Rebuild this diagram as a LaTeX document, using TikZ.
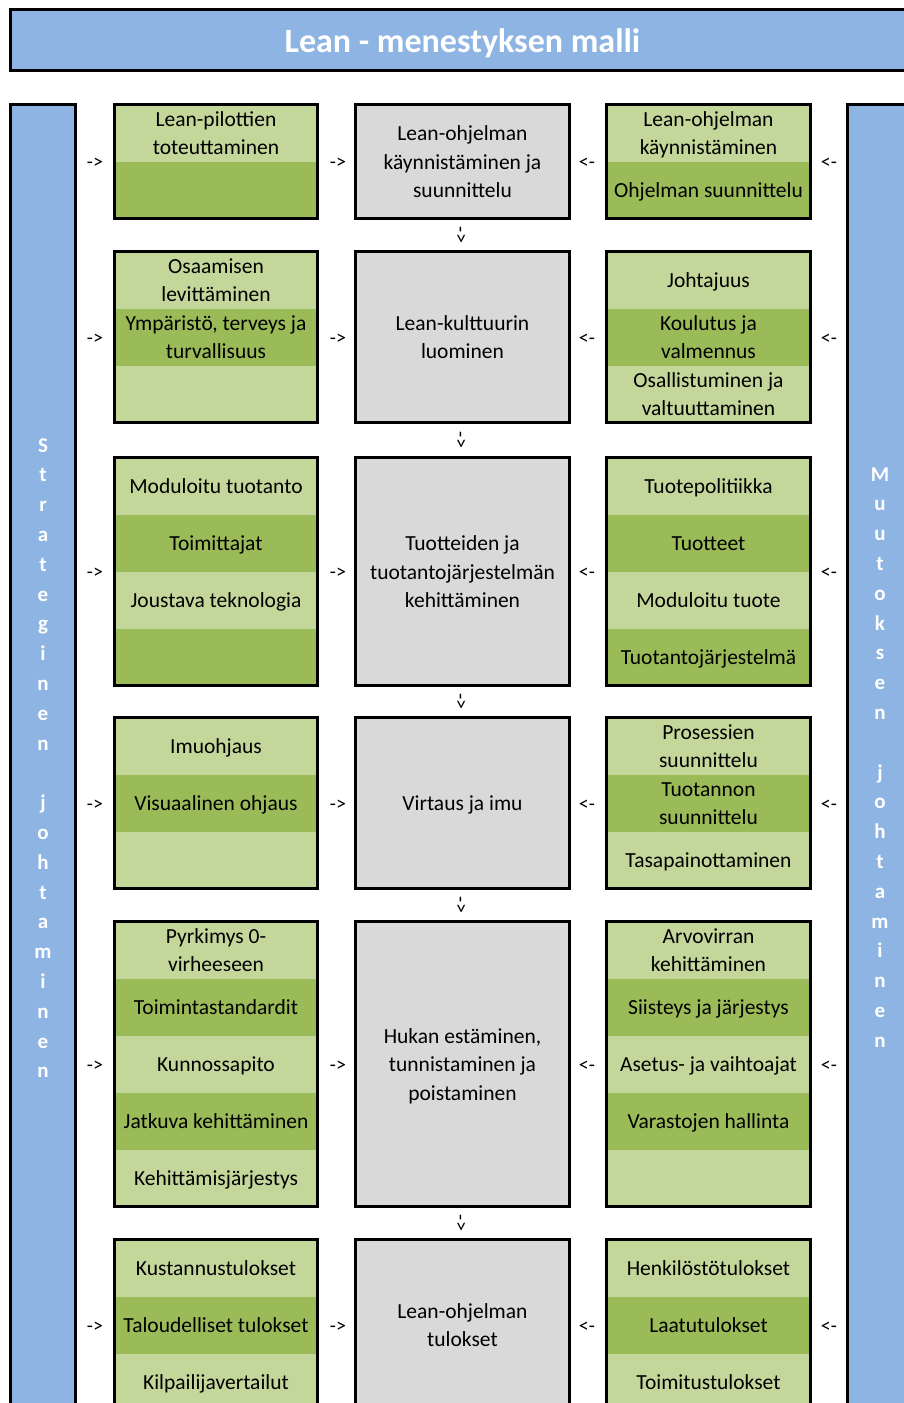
\documentclass[tikz,border=0pt]{standalone}
\usepackage{fontspec}
\setmainfont{Carlito}
\definecolor{panelblue}{HTML}{8DB4E2}
\definecolor{lgreen}{HTML}{C4D79B}
\definecolor{dgreen}{HTML}{9BBB59}
\definecolor{cellgray}{HTML}{D9D9D9}
\newcommand{\cstrut}{\rule[-6.4pt]{0pt}{28pt}}
\begin{document}
\begin{tikzpicture}[x=1pt,y=-1pt,
 cellbase/.style={inner sep=0pt, minimum height=57pt, align=center, font=\fontsize{21.5}{28}\selectfont,
   execute at begin node=\cstrut},
 lc1/.style={cellbase, fill=lgreen, minimum width=203pt},
 dc1/.style={cellbase, fill=dgreen, minimum width=203pt},
 lc3/.style={cellbase, fill=lgreen, minimum width=204pt},
 dc3/.style={cellbase, fill=dgreen, minimum width=204pt},
 boxframe/.style={draw=black, line width=3pt, inner sep=0pt, fill=none},
 graybox/.style={draw=black, line width=3pt, inner sep=0pt, fill=cellgray, minimum width=214pt, align=center, font=\fontsize{21.5}{28.5}\selectfont,
   execute at begin node=\cstrut},
 panel/.style={draw=black, line width=3pt, inner sep=0pt, fill=panelblue},
 arr/.style={font=\fontsize{20}{24}\selectfont, inner sep=0pt},
 vletter/.style={anchor=base, text=white, font=\bfseries\fontsize{21}{24}\selectfont, inner sep=0pt}
]
\useasboundingbox (0,0) rectangle (904,1403);
\clip (0,0) rectangle (904,1403);

% title and side panels
\node[panel, minimum width=904pt, minimum height=61pt, text=white, text height=27.6pt, text depth=3pt,
  font=\bfseries\fontsize{34}{40}\selectfont] (title) at (462.5,40) {Lean - menestyksen malli};
\node[panel, minimum width=65pt, minimum height=1330pt] (leftpanel) at (43,769.5) {};
\node[panel, minimum width=70pt, minimum height=1330pt] (rightpanel) at (882.5,769.5) {};

\foreach \c [count=\i] in {S,t,r,a,t,e,g,i,n,e,n,{},j,o,h,t,a,m,i,n,e,n}
  \node[vletter] (sl\i) at (43,{452+29.8*(\i-1)}) {\c};
\foreach \c [count=\i] in {M,u,u,t,o,k,s,e,n,{},j,o,h,t,a,m,i,n,e,n}
  \node[vletter] (sr\i) at (880,{481+29.8*(\i-1)}) {\c};

% ---------- left column ----------
% row 1
\node[lc1] (a11) at (216,133) {\cstrut Lean-pilottien\\toteuttaminen\cstrut};
\node[dc1] (a12) at (216,190) {};
\node[boxframe, minimum width=203pt, minimum height=114pt] (A1) at (216,161.5) {};
% row 2
\node[lc1] (a21) at (216,280) {\cstrut Osaamisen\\levittäminen\cstrut};
\node[dc1] (a22) at (216,337) {\cstrut Ympäristö, terveys ja\\turvallisuus\cstrut};
\node[lc1] (a23) at (216,394) {};
\node[boxframe, minimum width=203pt, minimum height=171pt] (A2) at (216,337) {};
% row 3
\node[lc1] (a31) at (216,486) {Moduloitu tuotanto};
\node[dc1] (a32) at (216,543) {Toimittajat};
\node[lc1] (a33) at (216,600) {Joustava teknologia};
\node[dc1] (a34) at (216,657) {};
\node[boxframe, minimum width=203pt, minimum height=228pt] (A3) at (216,571.5) {};
% row 4
\node[lc1] (a41) at (216,746) {Imuohjaus};
\node[dc1] (a42) at (216,803) {Visuaalinen ohjaus};
\node[lc1] (a43) at (216,860) {};
\node[boxframe, minimum width=203pt, minimum height=171pt] (A4) at (216,803) {};
% row 5
\node[lc1] (a51) at (216,950) {\cstrut Pyrkimys 0-\\virheeseen\cstrut};
\node[dc1] (a52) at (216,1007) {Toimintastandardit};
\node[lc1] (a53) at (216,1064) {Kunnossapito};
\node[dc1] (a54) at (216,1121) {Jatkuva kehittäminen};
\node[lc1] (a55) at (216,1178) {Kehittämisjärjestys};
\node[boxframe, minimum width=203pt, minimum height=285pt] (A5) at (216,1064) {};
% row 6
\node[lc1] (a61) at (216,1268) {Kustannustulokset};
\node[dc1] (a62) at (216,1325) {Taloudelliset tulokset};
\node[lc1] (a63) at (216,1382) {Kilpailijavertailut};
\node[boxframe, minimum width=203pt, minimum height=171pt] (A6) at (216,1325) {};

% ---------- middle column ----------
\node[graybox, minimum height=114pt] (M1) at (462.5,161.5) {\cstrut Lean-ohjelman\\käynnistäminen ja\\suunnittelu\cstrut};
\node[graybox, minimum height=171pt] (M2) at (462.5,337) {\cstrut Lean-kulttuurin\\luominen\cstrut};
\node[graybox, minimum height=228pt] (M3) at (462.5,571.5) {\cstrut Tuotteiden ja\\tuotantojärjestelmän\\kehittäminen\cstrut};
\node[graybox, minimum height=171pt] (M4) at (462.5,803) {Virtaus ja imu};
\node[graybox, minimum height=285pt] (M5) at (462.5,1064) {\cstrut Hukan estäminen,\\tunnistaminen ja\\poistaminen\cstrut};
\node[graybox, minimum height=171pt] (M6) at (462.5,1325) {\cstrut Lean-ohjelman\\tulokset\cstrut};

% ---------- right column ----------
% row 1
\node[lc3] (c11) at (708.5,133) {\cstrut Lean-ohjelman\\käynnistäminen\cstrut};
\node[dc3] (c12) at (708.5,190) {Ohjelman suunnittelu};
\node[boxframe, minimum width=204pt, minimum height=114pt] (C1) at (708.5,161.5) {};
% row 2
\node[lc3] (c21) at (708.5,280) {Johtajuus};
\node[dc3] (c22) at (708.5,337) {\cstrut Koulutus ja\\valmennus\cstrut};
\node[lc3] (c23) at (708.5,394) {\cstrut Osallistuminen ja\\valtuuttaminen\cstrut};
\node[boxframe, minimum width=204pt, minimum height=171pt] (C2) at (708.5,337) {};
% row 3
\node[lc3] (c31) at (708.5,486) {Tuotepolitiikka};
\node[dc3] (c32) at (708.5,543) {Tuotteet};
\node[lc3] (c33) at (708.5,600) {Moduloitu tuote};
\node[dc3] (c34) at (708.5,657) {Tuotantojärjestelmä};
\node[boxframe, minimum width=204pt, minimum height=228pt] (C3) at (708.5,571.5) {};
% row 4
\node[lc3] (c41) at (708.5,746) {\cstrut Prosessien\\suunnittelu\cstrut};
\node[dc3] (c42) at (708.5,803) {\cstrut Tuotannon\\suunnittelu\cstrut};
\node[lc3] (c43) at (708.5,860) {Tasapainottaminen};
\node[boxframe, minimum width=204pt, minimum height=171pt] (C4) at (708.5,803) {};
% row 5
\node[lc3] (c51) at (708.5,950) {\cstrut Arvovirran\\kehittäminen\cstrut};
\node[dc3] (c52) at (708.5,1007) {Siisteys ja järjestys};
\node[lc3] (c53) at (708.5,1064) {Asetus- ja vaihtoajat};
\node[dc3] (c54) at (708.5,1121) {Varastojen hallinta};
\node[lc3] (c55) at (708.5,1178) {};
\node[boxframe, minimum width=204pt, minimum height=285pt] (C5) at (708.5,1064) {};
% row 6
\node[lc3] (c61) at (708.5,1268) {Henkilöstötulokset};
\node[dc3] (c62) at (708.5,1325) {Laatutulokset};
\node[lc3] (c63) at (708.5,1382) {Toimitustulokset};
\node[boxframe, minimum width=204pt, minimum height=171pt] (C6) at (708.5,1325) {};

% ---------- arrow marks ----------
\foreach \y [count=\i] in {163.5,339,573.5,805,1066,1327} {
  \node[arr] (pl\i) at (95,\y) {->};
  \node[arr] (pm\i) at (338,\y) {->};
  \node[arr] (qm\i) at (587,\y) {<-};
  \node[arr] (qr\i) at (829,\y) {<-};
}
\foreach \y [count=\i] in {235,440,701.5,905,1223}
  \node[arr, rotate=-90] (dn\i) at (460,\y) {->};
\end{tikzpicture}
\end{document}
